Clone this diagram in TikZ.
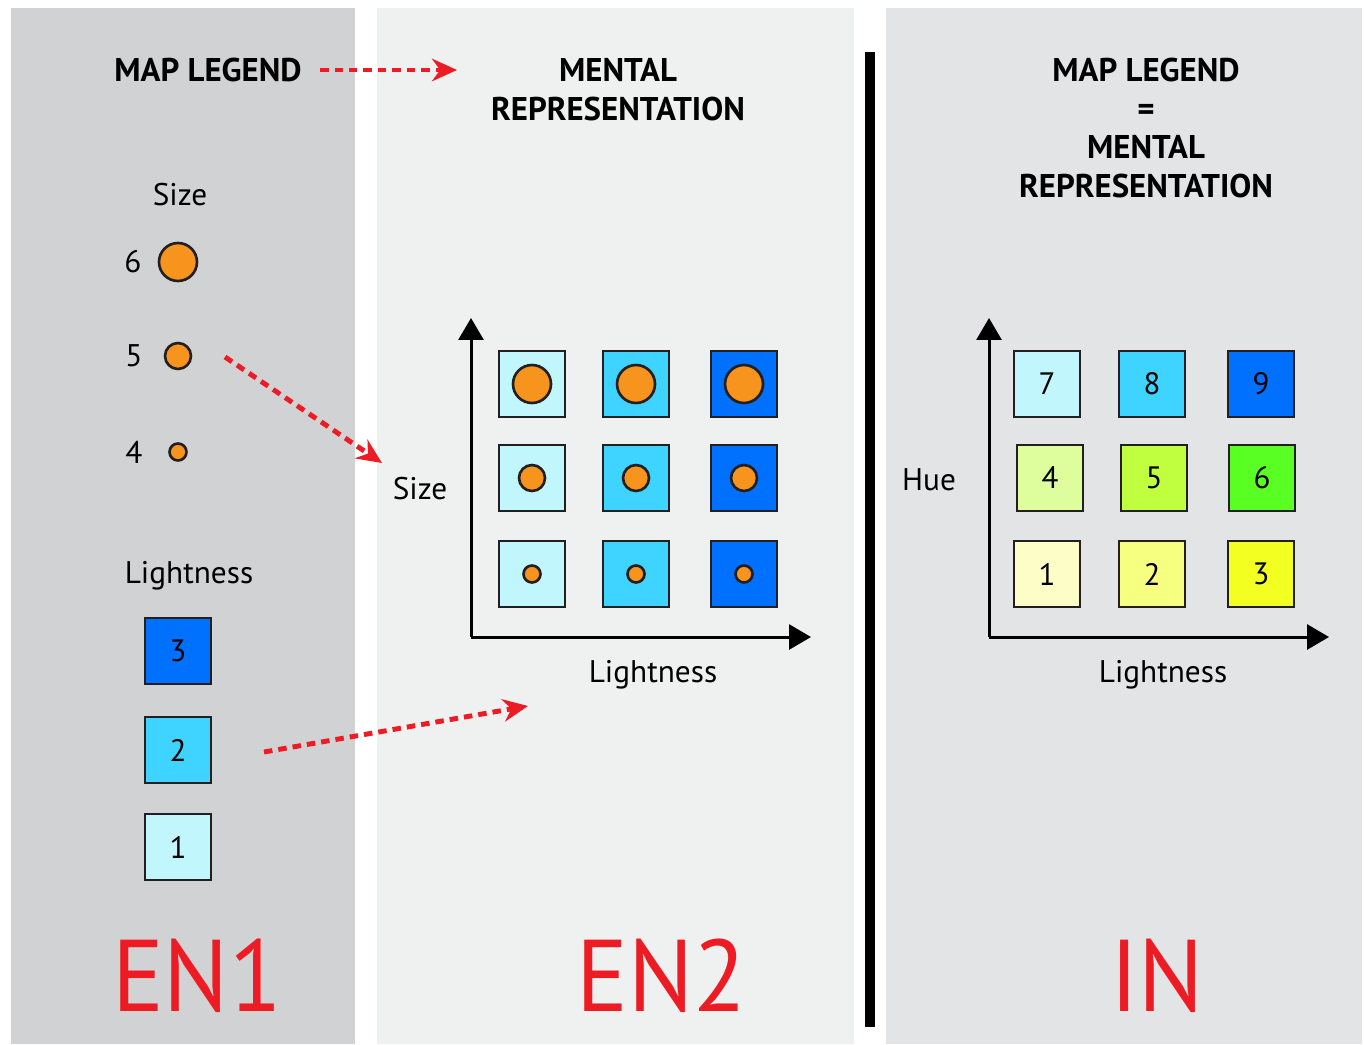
\documentclass[tikz,border=0pt]{standalone}
\usepackage{fontspec}
\setmainfont{PT Sans}
\usetikzlibrary{arrows.meta}
\definecolor{panelA}{HTML}{D1D2D4}
\definecolor{panelB}{HTML}{EFF0F0}
\definecolor{panelC}{HTML}{E3E4E6}
\definecolor{lc1}{HTML}{C0F6FC}
\definecolor{lc2}{HTML}{3FD3FF}
\definecolor{lc3}{HTML}{0070FF}
\definecolor{gy1}{HTML}{FDFEC7}
\definecolor{gy2}{HTML}{F6FF80}
\definecolor{gy3}{HTML}{F3FF20}
\definecolor{gg1}{HTML}{DEFD9C}
\definecolor{gg2}{HTML}{C0FF3F}
\definecolor{gg3}{HTML}{59FF22}
\definecolor{orng}{HTML}{F7941D}
\definecolor{redA}{HTML}{ED1C24}
\definecolor{edge}{HTML}{231F20}
\tikzset{
  sq/.style={draw=edge, line width=1.5pt, minimum size=1.32cm, inner sep=0pt, font=\fontsize{17.6}{20}\selectfont},
  dot/.style={circle, draw=edge, line width=1.5pt, fill=orng, inner sep=0pt},
  lab/.style={font=\fontsize{17.8}{20}\selectfont, text=black, inner sep=0pt},
  head/.style={font=\bfseries\fontsize{18.7}{22}\selectfont, align=center, inner sep=0pt},
  big/.style={text=redA, font=\fontsize{58}{60}\selectfont, xscale=0.95, inner sep=0pt, anchor=base},
  redarr/.style={draw=redA, line width=2.8pt, dash pattern=on 0.17cm off 0.12cm, -{Stealth[length=0.5cm,width=0.45cm,fill=redA]}},
  axis/.style={draw=black, line width=1.7pt, -{Triangle[length=0.44cm,width=0.5cm]}}
}
\begin{document}
\begin{tikzpicture}[x=0.02cm,y=-0.02cm]
\fill[white] (0,0) rectangle (1364,1044);
\useasboundingbox (0,0) rectangle (1364,1044);
% panels
\fill[panelA] (11,8) rectangle (355,1044);
\fill[panelB] (377,8) rectangle (854,1044);
\fill[panelC] (886,8) rectangle (1362,1044);
\fill[black] (865,52) rectangle (875,1027);

% headings
\node[head] (ml1) at (208,70) {MAP LEGEND};
\node[head] (mr1) at (618,89.5) {MENTAL\\REPRESENTATION};
\node[head] (hr) at (1146,128) {MAP LEGEND\\=\\MENTAL\\REPRESENTATION};

% left legend: size
\node[lab] (sizeL) at (180,195) {Size};
\node[lab] (n6) at (133,262) {6};
\node[dot, minimum size=0.76cm] (c6) at (178,262) {};
\node[lab] (n5) at (134,356) {5};
\node[dot, minimum size=0.52cm] (c5) at (178,356) {};
\node[lab] (n4) at (134,452) {4};
\node[dot, minimum size=0.34cm] (c4) at (178,452) {};

% left legend: lightness
\node[lab] (lightL) at (189,576) {Lightness};
\node[sq, fill=lc3] (s3) at (178,651) {3};
\node[sq, fill=lc2] (s2) at (178,750) {2};
\node[sq, fill=lc1] (s1) at (178,847) {1};

% middle grid
\foreach \c/\x in {1/532,2/636,3/744}{
  \node[sq, fill=lc\c] (mA\c) at (\x,384) {};
  \node[dot, minimum size=0.76cm] (dA\c) at (\x,384) {};
  \node[sq, fill=lc\c] (mB\c) at (\x,478) {};
  \node[dot, minimum size=0.52cm] (dB\c) at (\x,478) {};
  \node[sq, fill=lc\c] (mC\c) at (\x,574) {};
  \node[dot, minimum size=0.34cm] (dC\c) at (\x,574) {};
}
\coordinate (o1) at (471,637);
\coordinate (t1) at (471,318);
\coordinate (r1) at (811,637);
\draw[axis] (o1) -- (t1);
\draw[axis] (o1) -- (r1);
\node[lab] (sizeM) at (420,489) {Size};
\node[lab] (lightM) at (653,675) {Lightness};

% right grid
\node[sq, fill=lc1] (g7) at (1047,384) {7};
\node[sq, fill=lc2] (g8) at (1152,384) {8};
\node[sq, fill=lc3] (g9) at (1261,384) {9};
\node[sq, fill=gg1] (g4) at (1050,478) {4};
\node[sq, fill=gg2] (g5) at (1154,478) {5};
\node[sq, fill=gg3] (g6) at (1262,478) {6};
\node[sq, fill=gy1] (g1) at (1047,574) {1};
\node[sq, fill=gy2] (g2) at (1152,574) {2};
\node[sq, fill=gy3] (g3) at (1261,574) {3};
\coordinate (o2) at (989,637);
\coordinate (t2) at (989,318);
\coordinate (r2) at (1329,637);
\draw[axis] (o2) -- (t2);
\draw[axis] (o2) -- (r2);
\node[lab] (hue) at (929,480) {Hue};
\node[lab] (lightR) at (1163,675) {Lightness};

% red arrows
\coordinate (a1s) at (320,70);
\coordinate (a1e) at (457,70);
\coordinate (a2s) at (225,357);
\coordinate (a2e) at (382,463);
\coordinate (a3s) at (264,752);
\coordinate (a3e) at (528,706);
\draw[redarr] (a1s) -- (a1e);
\draw[redarr] (a2s) -- (a2e);
\draw[redarr] (a3s) -- (a3e);

% big labels
\node[big] (en1) at (197,1011) {EN1};
\node[big] (en2) at (661,1011) {EN2};
\node[big] (in) at (1157,1011) {IN};
\end{tikzpicture}
\end{document}
